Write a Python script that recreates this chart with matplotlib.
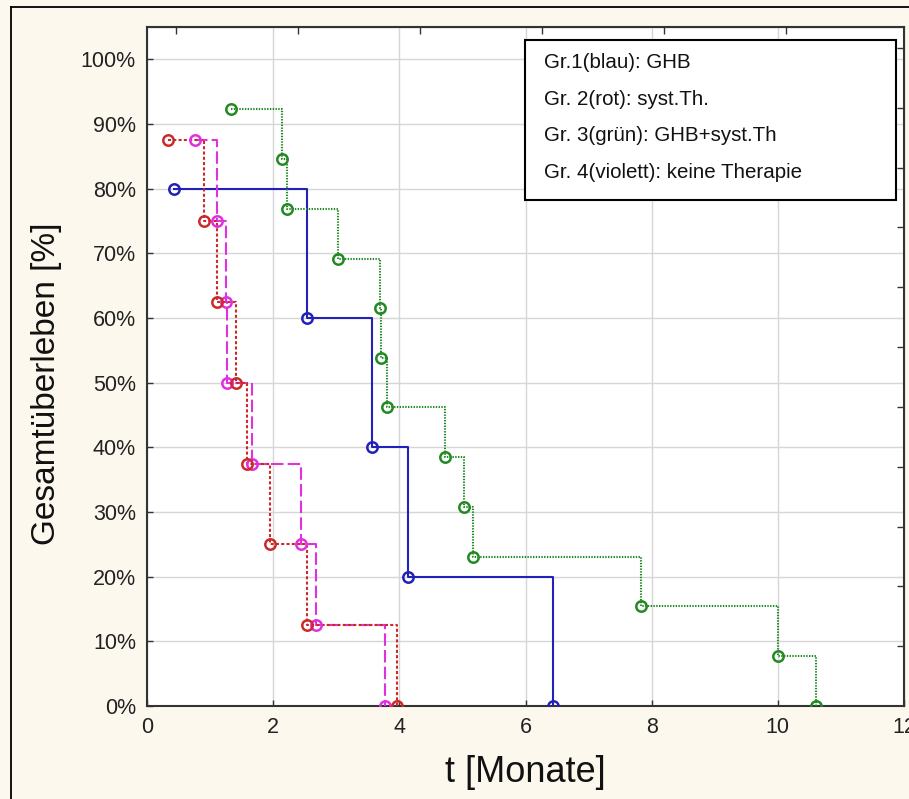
import numpy as np
import matplotlib
matplotlib.use("Agg")
import matplotlib.pyplot as plt
from matplotlib.patches import Rectangle
from matplotlib.lines import Line2D

plt.rcParams['font.family'] = ['Liberation Sans', 'DejaVu Sans']
plt.rcParams['lines.scale_dashes'] = False

# Kaplan-Meier estimates: event times (months) and survival (%)
blue_t = [0.43, 2.54, 3.57, 4.14, 6.43]
blue_s = [80, 60, 40, 20, 0]

red_t = [0.33, 0.90, 1.11, 1.41, 1.59, 1.95, 2.54, 3.97]
red_s = [87.5, 75, 62.5, 50, 37.5, 25, 12.5, 0]

green_t = [1.33, 2.14, 2.22, 3.02, 3.70, 3.71, 3.81, 4.73, 5.02, 5.16, 7.83, 10.0, 10.6]
green_s = [92.3, 84.6, 76.9, 69.2, 61.5, 53.8, 46.2, 38.5, 30.8, 23.1, 15.4, 7.7, 0]

violet_t = [0.76, 1.11, 1.25, 1.27, 1.67, 2.44, 2.68, 3.78]
violet_s = [87.5, 75, 62.5, 50, 37.5, 25, 12.5, 0]

legend_lines = [
    "Gr.1(blau): GHB",
    "Gr. 2(rot): syst.Th.",
    "Gr. 3(grün): GHB+syst.Th",
    "Gr. 4(violett): keine Therapie",
]

x_ticks = [0, 2, 4, 6, 8, 10, 12]
y_ticks = [0, 10, 20, 30, 40, 50, 60, 70, 80, 90, 100]

W, H = 909, 799
cream = "#fcf8ee"
fig = plt.figure(figsize=(W / 100, H / 100), dpi=100, facecolor=cream)

# outer frame (left and top edges visible)
fig.add_artist(Line2D([11 / W, 11 / W], [0, 1 - 7 / H], transform=fig.transFigure,
                      color="black", lw=1.3))
fig.add_artist(Line2D([11 / W, 1], [1 - 7 / H, 1 - 7 / H], transform=fig.transFigure,
                      color="black", lw=1.3))

ax = fig.add_axes([147 / W, 1 - 706 / H, (904 - 147) / W, (706 - 27) / H])
ax.set_facecolor("white")
ax.set_xlim(0, 12)
ax.set_ylim(0, 105)

series = [
    (blue_t, blue_s, "#2222b8", "-"),
    (violet_t, violet_s, "#e030e0", (0, (9, 3))),
    (red_t, red_s, "#cc2a2a", (0, (2.2, 1.6))),
    (green_t, green_s, "#238a23", (0, (1, 1))),
]
for t, s, c, ls in series:
    ax.step(t, s, where="post", color=c, lw=1.5, linestyle=ls, zorder=3)
    ax.plot(t, s, linestyle="none", marker="o", ms=7.5, mfc="none",
            mec=c, mew=1.8, zorder=4)

ax.set_xticks(x_ticks)
ax.set_xticklabels([str(v) for v in x_ticks])
ax.set_yticks(y_ticks)
ax.set_yticklabels([f"{v}%" for v in y_ticks])
ax.grid(True, color="#d6d6d6", lw=1.0)
ax.set_axisbelow(True)
ax.tick_params(axis="x", direction="in", length=4, width=1, pad=8,
               labelsize=15.5, colors="#333333", labelcolor="#222222")
ax.tick_params(axis="y", direction="in", length=4, width=1, pad=8,
               labelsize=15.5, colors="#333333", labelcolor="#222222")
for sp in ax.spines.values():
    sp.set_color("#333333")
    sp.set_linewidth(1.5)

# mirrored tick marks on top and right edges
top = ax.secondary_xaxis("top")
top.set_xticks(np.arange(0.46, 12, 1.935))
top.set_xticklabels([])
top.tick_params(direction="in", length=5, width=1, colors="#333333")
right = ax.secondary_yaxis("right")
right.set_yticks(np.arange(9.25, 105, 9.25))
right.set_yticklabels([])
right.tick_params(direction="in", length=5, width=1, colors="#333333")

ax.set_xlabel("t [Monate]", fontsize=26, color="#111111")
ax.xaxis.set_label_coords(0.5, -0.072)
ax.set_ylabel("Gesamtüberleben [%]", fontsize=24, color="#111111")
ax.yaxis.set_label_coords(-0.112, 0.474)

# legend box with group descriptions
box = Rectangle((0.4987, 0.7452), 0.9894 - 0.4987, 0.9809 - 0.7452,
                transform=ax.transAxes, facecolor="white", edgecolor="black",
                lw=1.5, zorder=5)
ax.add_patch(box)
for i, txt in enumerate(legend_lines):
    ax.text(0.5238, 0.947 - i * 0.0537, txt, transform=ax.transAxes,
            fontsize=14.8, va="center", ha="left", color="#111111", zorder=6)

fig.savefig("out.png", dpi=100, facecolor=cream)
